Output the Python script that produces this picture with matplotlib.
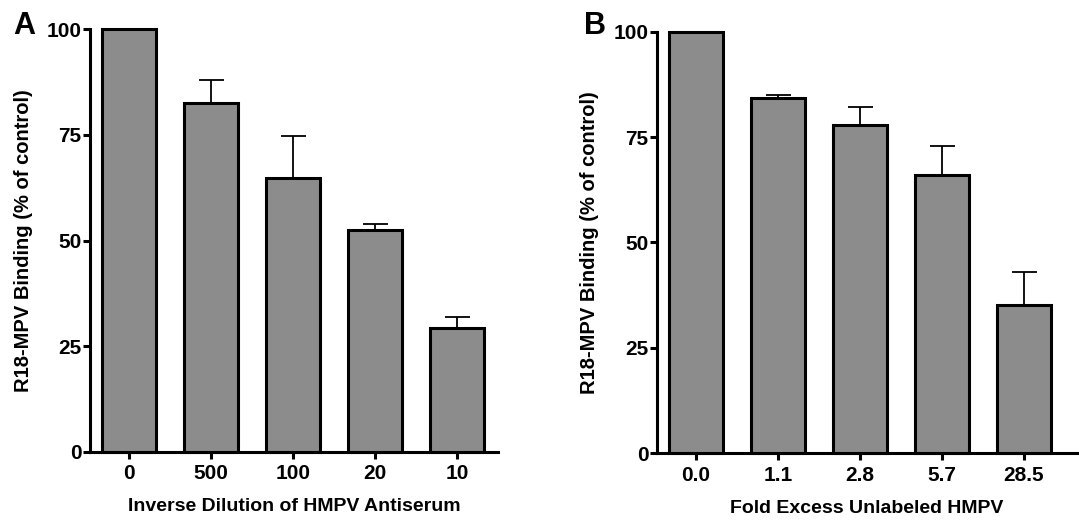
import numpy as np
import matplotlib
matplotlib.use("Agg")
import matplotlib.pyplot as plt

plt.rcParams['font.family'] = ['Liberation Sans', 'DejaVu Sans']
plt.rcParams['font.weight'] = 'bold'
plt.rcParams['axes.labelweight'] = 'bold'

# panel A data
dilution_labels = ['0', '500', '100', '20', '10']
dilution_binding = [100, 82.6, 64.9, 52.5, 29.2]
dilution_err = [0, 5.3, 9.8, 1.4, 2.8]

# panel B data
excess_labels = ['0.0', '1.1', '2.8', '5.7', '28.5']
excess_binding = [100, 84.3, 77.9, 66.0, 35.1]
excess_err = [0, 0.7, 4.2, 7.0, 7.8]

fig = plt.figure(figsize=(10.79, 5.23), dpi=100)
axA = fig.add_axes([0.0834, 0.1363, 0.3781, 0.8077])
axB = fig.add_axes([0.6086, 0.1333, 0.3894, 0.8061])


def draw_panel(ax, labels, vals, errs, xlabel, xmax):
    x = np.arange(len(labels))
    bars = ax.bar(x, vals, width=0.66, color='#8c8c8c', edgecolor='black',
                  linewidth=2.2, zorder=2)
    for b in bars:
        b.set_clip_on(False)
    # upper error bars only
    ax.errorbar(x[1:], vals[1:], yerr=[np.zeros(len(x) - 1), errs[1:]],
                fmt='none', ecolor='black', elinewidth=1.3, capsize=9,
                capthick=1.3, zorder=1)
    ax.set_xlim(-0.48, xmax)
    ax.set_ylim(0, 100)
    ax.set_yticks([0, 25, 50, 75, 100])
    ax.set_xticks(x)
    ax.set_xticklabels(labels)
    for s in ['top', 'right']:
        ax.spines[s].set_visible(False)
    for s in ['left', 'bottom']:
        ax.spines[s].set_linewidth(2.2)
    ax.tick_params(axis='both', width=2.2, length=5, labelsize=15)
    ax.tick_params(axis='y', pad=1)
    ax.tick_params(axis='x', pad=4)
    ax.set_ylabel('R18-MPV Binding (% of control)', fontsize=14.5, labelpad=10)
    ax.set_xlabel(xlabel, fontsize=14, labelpad=11)


draw_panel(axA, dilution_labels, dilution_binding, dilution_err,
           'Inverse Dilution of HMPV Antiserum', 4.5)
draw_panel(axB, excess_labels, excess_binding, excess_err,
           'Fold Excess Unlabeled HMPV', 4.65)

fig.text(0.012, 0.935, 'A', fontsize=22, fontweight='bold')
fig.text(0.541, 0.935, 'B', fontsize=22, fontweight='bold')

fig.savefig('out.png', dpi=100)
